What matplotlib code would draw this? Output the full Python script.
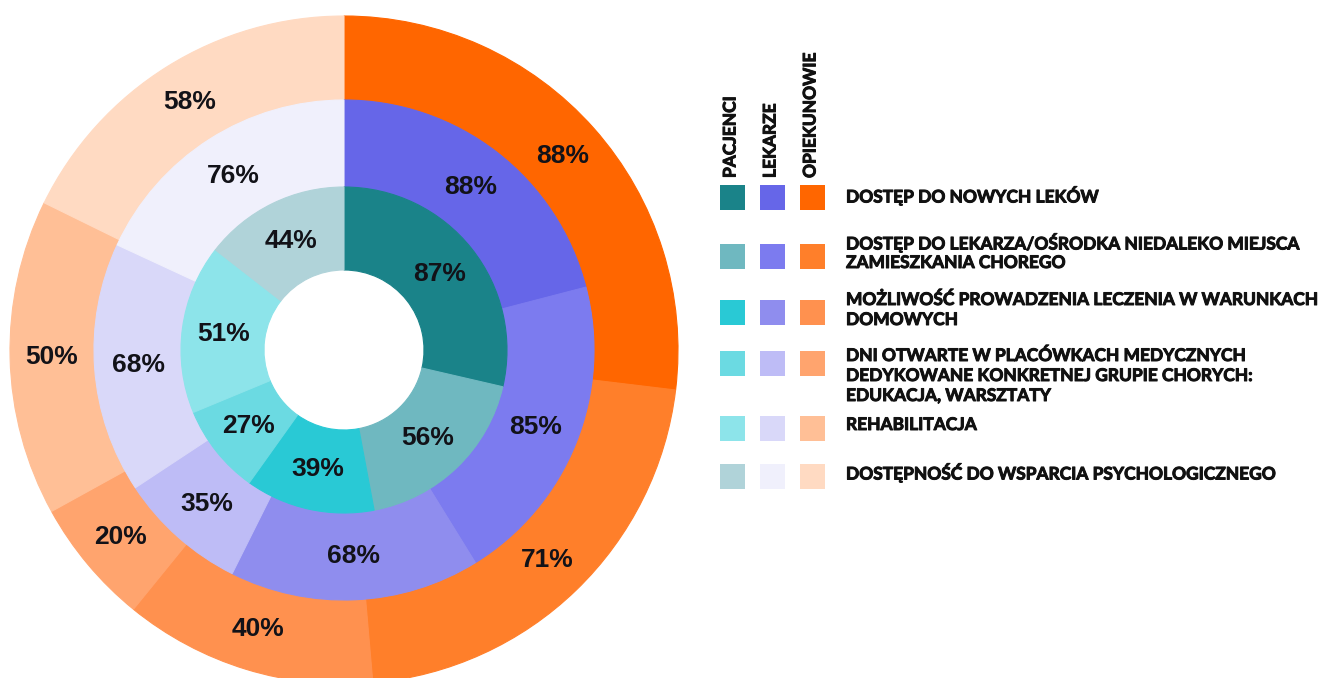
import numpy as np
import matplotlib
matplotlib.use("Agg")
import matplotlib.pyplot as plt
import matplotlib.patheffects as pe
from matplotlib.patches import Rectangle

W, H = 1324, 678

GROUPS = ["PACJENCI", "LEKARZE", "OPIEKUNOWIE"]
CATEGORIES = [
    "DOSTĘP DO NOWYCH LEKÓW",
    "DOSTĘP DO LEKARZA/OŚRODKA NIEDALEKO MIEJSCA\nZAMIESZKANIA CHOREGO",
    "MOŻLIWOŚĆ PROWADZENIA LECZENIA W WARUNKACH\nDOMOWYCH",
    "DNI OTWARTE W PLACÓWKACH MEDYCZNYCH\nDEDYKOWANE KONKRETNEJ GRUPIE CHORYCH:\nEDUKACJA, WARSZTATY",
    "REHABILITACJA",
    "DOSTĘPNOŚĆ DO WSPARCIA PSYCHOLOGICZNEGO",
]

pacjenci = [87, 56, 39, 27, 51, 44]
lekarze = [88, 85, 68, 35, 68, 76]
opiekunowie = [88, 71, 40, 20, 50, 58]

teal = ["#1a8389", "#6fb8c0", "#29c9d5", "#6bdae2", "#8de4ea", "#b0d3d9"]
violet = ["#6666e8", "#7c7bef", "#8f8dee", "#bebcf6", "#d9d8f9", "#f0f0fc"]
orange = ["#ff6600", "#ff7f2a", "#ff914f", "#ffa46e", "#ffbf96", "#ffdac2"]

# rings from the outside in: (values, colours, outer radius, ring width)
RINGS = [
    (opiekunowie, orange, 334, 84),
    (lekarze, violet, 250, 87),
    (pacjenci, teal, 163, 83),
]
CX, CY = 344, H - 350

LEGEND_FONT = ["Lato", "DejaVu Sans"]
HEAVY = [pe.withStroke(linewidth=0.7, foreground="#111111")]


def Y(y):
    return H - y


fig = plt.figure(figsize=(W / 100, H / 100), dpi=100)
ax = fig.add_axes([0, 0, 1, 1])

for values, colors, radius, width in RINGS:
    wedges, _ = ax.pie(values, radius=radius, center=(CX, CY), startangle=90,
                       counterclock=False, colors=colors,
                       wedgeprops=dict(width=width, linewidth=0.8))
    for w, c, v in zip(wedges, colors, values):
        w.set_edgecolor(c)
        theta = np.deg2rad((w.theta1 + w.theta2) / 2)
        r = radius - width / 2
        ax.text(CX + r * np.cos(theta), CY + r * np.sin(theta), f"{v}%",
                ha="center", va="center", fontsize=19, fontweight="bold",
                family=["Liberation Sans", "DejaVu Sans"], color="#121218")

ax.set_xlim(0, W)
ax.set_ylim(0, H)
ax.set_aspect("auto")
ax.axis("off")

# legend: three swatch columns, one per respondent group
col_x = [720, 760, 800]
sw = 25
row_top = [185, 244, 300, 351, 416, 464]
text_first = [196, 243, 300, 356, 425, 473]
line_step = 20

for j, name in enumerate(GROUPS):
    ax.text(col_x[j] + sw / 2 - 2, Y(178), name, rotation=90, ha="center",
            va="bottom", fontsize=12.5, fontweight="bold", family=LEGEND_FONT,
            color="#111111", path_effects=HEAVY)

for i, label in enumerate(CATEGORIES):
    for j, pal in enumerate([teal, violet, orange]):
        ax.add_patch(Rectangle((col_x[j], Y(row_top[i] + sw)), sw, sw,
                               facecolor=pal[i], edgecolor="none"))
    for k, line in enumerate(label.split("\n")):
        ax.text(846, Y(text_first[i] + k * line_step), line, ha="left",
                va="center", fontsize=12.5, fontweight="bold",
                family=LEGEND_FONT, color="#111111", path_effects=HEAVY)

fig.savefig("out.png", dpi=100)
